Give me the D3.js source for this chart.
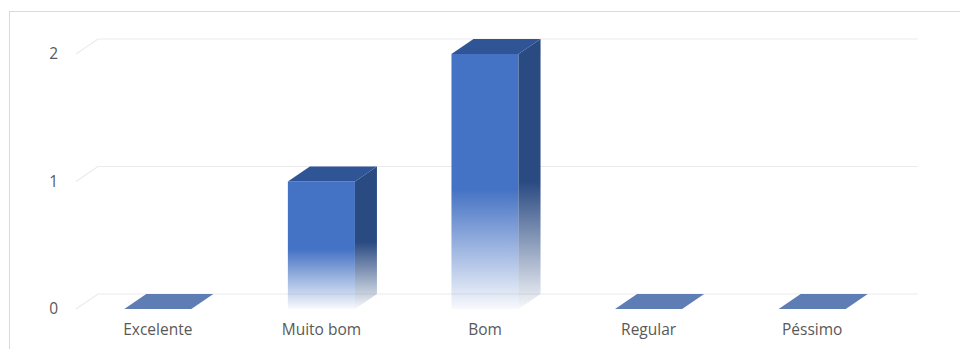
<!DOCTYPE html>
<html>
<head>
<meta charset="utf-8">
<script src="https://cdn.jsdelivr.net/npm/d3@7"></script>
<style>
html,body{margin:0;padding:0;background:#fff;}
svg{display:block;}
</style>
</head>
<body>
<script>
const categories = ["Excelente", "Muito bom", "Bom", "Regular", "Péssimo"];
const values = [0, 1, 2, 0, 0];
const yTicks = [0, 1, 2];

const W = 960, H = 349;
const dx = 22, dy = -15;
const svg = d3.select("body").append("svg").attr("width", W).attr("height", H);

// outer frame (cropped)
svg.append("rect").attr("x", 9.5).attr("y", 11.5).attr("width", 1000).attr("height", 400)
  .attr("fill", "#fff").attr("stroke", "#d9d9d9").attr("stroke-width", 1);

const x = d3.scaleBand().domain(categories).range([76, 894]).paddingInner(0.59).paddingOuter(0.295);
const y = d3.scaleLinear().domain([0, 2]).range([309, 54]);

const defs = svg.append("defs");
function grad(id, color) {
  const g = defs.append("linearGradient").attr("id", id).attr("x1", 0).attr("y1", 0).attr("x2", 0).attr("y2", 1);
  g.append("stop").attr("offset", 0).attr("stop-color", color).attr("stop-opacity", 1);
  g.append("stop").attr("offset", 0.53).attr("stop-color", color).attr("stop-opacity", 1);
  g.append("stop").attr("offset", 0.75).attr("stop-color", color).attr("stop-opacity", 0.55);
  g.append("stop").attr("offset", 1).attr("stop-color", color).attr("stop-opacity", 0.04);
}
grad("gFront", "#4472C4");
grad("gSide", "#2A4A82");

// gridlines on back wall
const x0 = x.range()[0], x1 = x.range()[1];
svg.append("g").selectAll("path").data(yTicks).join("path")
  .attr("d", t => `M${x0},${y(t)}L${x0 + dx},${y(t) + dy}L${x1 + dx + 2},${y(t) + dy}`)
  .attr("fill", "none").attr("stroke", "#ebebeb").attr("stroke-width", 1.2);

// y tick labels
svg.append("g").selectAll("text").data(yTicks).join("text")
  .attr("x", 58).attr("y", t => y(t) + 5)
  .attr("text-anchor", "end")
  .attr("font-family", "'Open Sans', sans-serif").attr("font-size", 15.5)
  .attr("fill", "#595959").text(t => t);

// bars
const data = categories.map((c, i) => ({ c, v: values[i] }));
const bars = svg.append("g").selectAll("g").data(data).join("g");
const y0 = y(0), bw = x.bandwidth();

bars.each(function(d) {
  const g = d3.select(this);
  const xb = x(d.c), yt = y(d.v);
  if (d.v > 0) {
    g.append("rect").attr("x", xb).attr("y", yt).attr("width", bw).attr("height", y0 - yt)
      .attr("fill", "url(#gFront)");
    g.append("path")
      .attr("d", `M${xb + bw},${yt}L${xb + bw + dx},${yt + dy}L${xb + bw + dx},${y0 + dy}L${xb + bw},${y0}Z`)
      .attr("fill", "url(#gSide)");
    g.append("path")
      .attr("d", `M${xb},${yt}L${xb + dx},${yt + dy}L${xb + bw + dx},${yt + dy}L${xb + bw},${yt}Z`)
      .attr("fill", "#2F5597");
  } else {
    g.append("path")
      .attr("d", `M${xb},${y0}L${xb + dx},${y0 + dy}L${xb + bw + dx},${y0 + dy}L${xb + bw},${y0}Z`)
      .attr("fill", "#5D7DB4");
  }
});

// category labels
svg.append("g").selectAll("text").data(categories).join("text")
  .attr("x", c => x(c) + bw / 2).attr("y", 335)
  .attr("text-anchor", "middle")
  .attr("font-family", "'Open Sans', sans-serif").attr("font-size", 15.5)
  .attr("fill", "#595959").text(c => c);
</script>
</body>
</html>
